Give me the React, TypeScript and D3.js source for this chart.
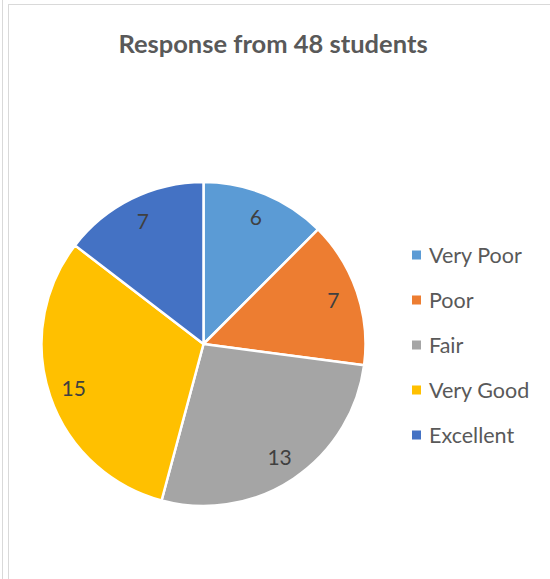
import React, { useEffect, useRef } from 'react';
import * as d3 from 'd3';

const categories = ['Very Poor', 'Poor', 'Fair', 'Very Good', 'Excellent'];
const values = [6, 7, 13, 15, 7];
const colors = ['#5B9BD5', '#ED7D31', '#A5A5A5', '#FFC000', '#4472C4'];
const title = 'Response from 48 students';

const W = 550;
const H = 579;

const App: React.FC = () => {
  const svgRef = useRef<SVGSVGElement>(null);

  useEffect(() => {
    if (!svgRef.current) return;
    const svg = d3.select(svgRef.current);
    svg.selectAll('*').remove();

    const font = 'Lato, "Open Sans", sans-serif';

    // chart frame (edges cut by the screenshot)
    svg.append('line')
      .attr('x1', 2.5).attr('x2', 2.5).attr('y1', 0).attr('y2', H)
      .attr('stroke', '#d9d9d9');
    svg.append('rect')
      .attr('x', 8.5).attr('y', 4.5).attr('width', W + 10).attr('height', H + 10)
      .attr('fill', 'white').attr('stroke', '#d9d9d9');

    svg.append('text')
      .attr('x', 273).attr('y', 53)
      .attr('text-anchor', 'middle')
      .attr('font-family', font).attr('font-weight', 'bold')
      .attr('font-size', 25.5).attr('fill', '#595959')
      .text(title);

    const cx = 203.5;
    const cy = 344;
    const radius = 162;

    const pie = d3.pie<number>().sort(null).value(d => d);
    const arcs = pie(values);
    const arc = d3.arc<d3.PieArcDatum<number>>().innerRadius(0).outerRadius(radius);
    const labelArc = d3.arc<d3.PieArcDatum<number>>().innerRadius(137).outerRadius(137);

    const g = svg.append('g').attr('transform', `translate(${cx},${cy})`);
    g.selectAll('path')
      .data(arcs)
      .enter()
      .append('path')
      .attr('d', arc)
      .attr('fill', (d, i) => colors[i])
      .attr('stroke', 'white')
      .attr('stroke-width', 2.5)
      .attr('stroke-linejoin', 'round');

    g.selectAll('text.lbl')
      .data(arcs)
      .enter()
      .append('text')
      .attr('class', 'lbl')
      .attr('transform', d => `translate(${labelArc.centroid(d)})`)
      .attr('text-anchor', 'middle')
      .attr('dy', '0.36em')
      .attr('font-family', font)
      .attr('font-size', 21)
      .attr('fill', '#404040')
      .text(d => d.data);

    const legendY = d3.scalePoint<string>().domain(categories).range([255, 435]);
    const leg = svg.append('g');
    categories.forEach((c, i) => {
      const y = legendY(c)!;
      leg.append('rect')
        .attr('x', 412).attr('y', y - 4.5).attr('width', 9).attr('height', 9)
        .attr('fill', colors[i]);
      leg.append('text')
        .attr('x', 429).attr('y', y).attr('dy', '0.36em')
        .attr('font-family', font).attr('font-size', 21.5)
        .attr('fill', '#595959')
        .text(c);
    });
  }, []);

  return (
    <svg ref={svgRef} width={W} height={H}
      style={{ position: 'absolute', left: 0, top: 0, background: 'white' }} />
  );
};

export default App;
